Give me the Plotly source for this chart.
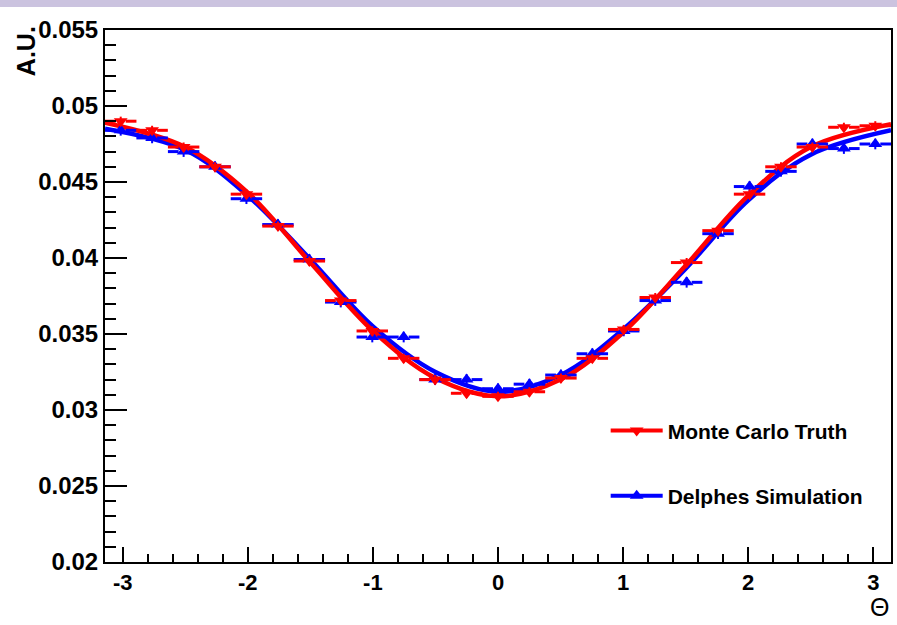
import plotly.graph_objects as go

# ---- data ----
bin_centers = [-3.016, -2.765, -2.513, -2.262, -2.011, -1.759, -1.508, -1.257, -1.005,
               -0.754, -0.503, -0.251, 0.0, 0.251, 0.503, 0.754, 1.005, 1.257, 1.508,
               1.759, 2.011, 2.262, 2.513, 2.765, 3.016]
bin_half_width = 0.1257

mc_truth = [0.0490, 0.0484, 0.0473, 0.0460, 0.0442, 0.0421, 0.0398, 0.0372, 0.0352,
            0.0334, 0.0320, 0.0311, 0.0309, 0.0312, 0.0321, 0.0334, 0.0353, 0.0374,
            0.0397, 0.0418, 0.0442, 0.0460, 0.0473, 0.0486, 0.0487]
mc_err = 0.00030

delphes = [0.0484, 0.0479, 0.0470, 0.0460, 0.0439, 0.0422, 0.0399, 0.0371, 0.0348,
           0.0348, 0.0320, 0.0320, 0.0314, 0.0317, 0.0323, 0.0337, 0.0352, 0.0372,
           0.0384, 0.0416, 0.0447, 0.0457, 0.0475, 0.0472, 0.0475]
delphes_err = 0.00035

# fitted curves
curve_x = [-3.1416, -2.5, -2.0, -1.5, -1.0, -0.5, 0.0, 0.5, 1.0, 1.5, 2.0, 2.5, 3.1416]
mc_curve = [0.0489, 0.0473, 0.0443, 0.0397, 0.0352, 0.0321, 0.0309, 0.0320, 0.0351,
            0.0395, 0.0441, 0.0473, 0.0488]
delphes_curve = [0.0485, 0.0471, 0.0441, 0.0399, 0.0355, 0.0325, 0.0312, 0.0323, 0.0353,
                 0.0393, 0.0438, 0.0468, 0.0484]

y_tickvals = [0.02, 0.025, 0.03, 0.035, 0.04, 0.045, 0.05, 0.055]
y_ticktext = ["0.02", "0.025", "0.03", "0.035", "0.04", "0.045", "0.05", "0.055"]
x_tickvals = [-3, -2, -1, 0, 1, 2, 3]
x_ticktext = ["-3", "-2", "-1", "0", "1", "2", "3"]

RED = "#ff0000"
BLUE = "#0000ff"
FONT = "Liberation Sans"
MARKER_GAP = 0.04  # gap around the marker in the horizontal error bars (x units)


def hbar_segments(xs, ys):
    """ROOT-style horizontal error bars: two dashes with a gap around the marker."""
    sx, sy = [], []
    for cx, cy in zip(xs, ys):
        sx += [cx - bin_half_width, cx - MARKER_GAP, None,
               cx + MARKER_GAP, cx + bin_half_width, None]
        sy += [cy, cy, None, cy, cy, None]
    return sx, sy


fig = go.Figure()

# fit curves (blue under red)
fig.add_trace(go.Scatter(x=curve_x, y=delphes_curve, mode="lines",
                         line=dict(color=BLUE, width=4.5, shape="spline", smoothing=1.0),
                         showlegend=False, hoverinfo="skip"))
fig.add_trace(go.Scatter(x=curve_x, y=mc_curve, mode="lines",
                         line=dict(color=RED, width=4.5, shape="spline", smoothing=1.0),
                         showlegend=False, hoverinfo="skip"))

# data points with error bars
for xs, ys, err, col, sym in [(bin_centers, delphes, delphes_err, BLUE, "triangle-up"),
                              (bin_centers, mc_truth, mc_err, RED, "triangle-down")]:
    hx, hy = hbar_segments(xs, ys)
    fig.add_trace(go.Scatter(x=hx, y=hy, mode="lines", line=dict(color=col, width=3),
                             showlegend=False, hoverinfo="skip"))
    fig.add_trace(go.Scatter(x=xs, y=ys, mode="markers",
                             marker=dict(symbol=sym, size=12, color=col),
                             error_y=dict(type="constant", value=err, color=col,
                                          thickness=2, width=0),
                             showlegend=False))

# legend entries
fig.add_trace(go.Scatter(x=[None], y=[None], mode="lines+markers", name="Monte Carlo Truth",
                         line=dict(color=RED, width=4),
                         marker=dict(symbol="triangle-down", size=12, color=RED),
                         legendgroup="a"))
fig.add_trace(go.Scatter(x=[None], y=[None], mode="lines+markers", name="Delphes Simulation",
                         line=dict(color=BLUE, width=4),
                         marker=dict(symbol="triangle-up", size=12, color=BLUE),
                         legendgroup="b"))

fig.update_layout(
    width=897, height=625,
    margin=dict(l=105, r=4, t=30, b=63),
    paper_bgcolor="white", plot_bgcolor="white",
    font=dict(family=FONT, color="black"),
    showlegend=True,
    legend=dict(x=0.637, y=0.285, xanchor="left", yanchor="top",
                bgcolor="rgba(0,0,0,0)", font=dict(family=FONT, size=21, weight="bold"),
                tracegroupgap=35, itemwidth=52, traceorder="grouped"),
    xaxis=dict(range=[-3.14159, 3.14159], tickvals=x_tickvals, ticktext=x_ticktext,
               ticks="inside", ticklen=15, tickwidth=2, tickcolor="black",
               showline=True, linecolor="black", linewidth=2, mirror=True,
               showgrid=False, zeroline=False,
               tickfont=dict(family=FONT, size=22, weight="bold"),
               minor=dict(ticks="inside", ticklen=8, tickwidth=2, tickcolor="black",
                          dtick=0.2, tick0=0, showgrid=False)),
    yaxis=dict(range=[0.02, 0.055], tickvals=y_tickvals, ticktext=y_ticktext,
               ticks="inside", ticklen=22, tickwidth=2, tickcolor="black",
               showline=True, linecolor="black", linewidth=2, mirror=True,
               showgrid=False, zeroline=False,
               tickfont=dict(family=FONT, size=24, weight="bold"),
               minor=dict(ticks="inside", ticklen=11, tickwidth=2, tickcolor="black",
                          dtick=0.001, tick0=0.02, showgrid=False)),
    shapes=[dict(type="rect", xref="paper", yref="paper", x0=-0.2, x1=1.01,
                 y0=1.0432, y1=1.07, fillcolor="#cbc3df", line=dict(width=0), layer="below")],
    annotations=[
        dict(text="A.U.", textangle=-90, xref="paper", yref="paper", x=-0.1003, y=0.9605,
             xanchor="center", yanchor="middle", showarrow=False,
             font=dict(family=FONT, size=25, weight="bold")),
        dict(text="Θ", xref="paper", yref="paper", x=0.986, y=-0.0846,
             xanchor="center", yanchor="middle", showarrow=False,
             font=dict(family=FONT, size=25)),
    ],
)

fig.write_html("out.html", config={"displayModeBar": False},
               post_script="document.body.style.margin='0';")
